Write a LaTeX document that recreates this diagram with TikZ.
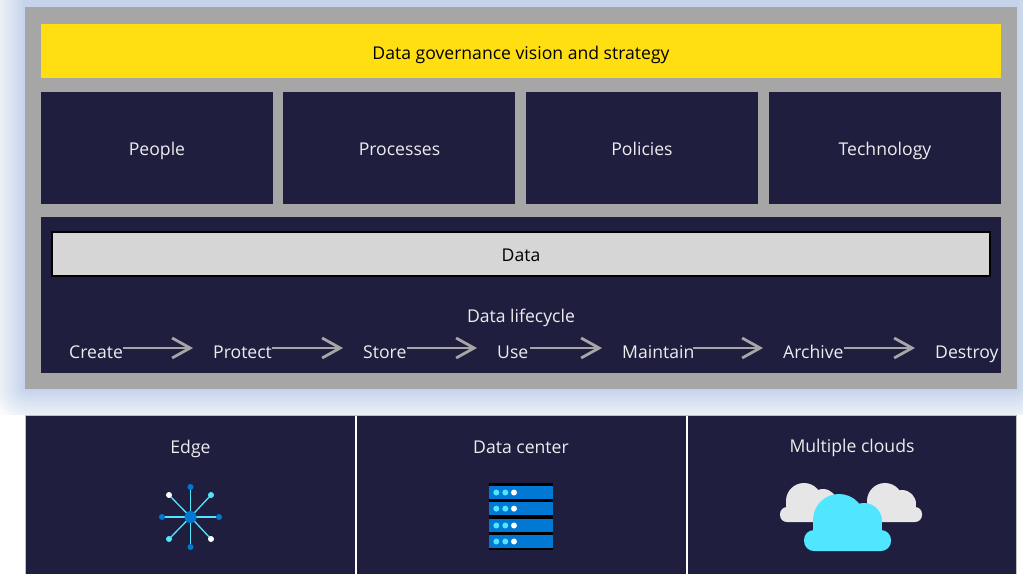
\documentclass[tikz,border=0pt]{standalone}
\usepackage{fontspec}
\setmainfont{Open Sans}
\usetikzlibrary{arrows.meta}
\definecolor{navy}{HTML}{1F1E3E}
\definecolor{panelgray}{HTML}{A6A6A6}
\definecolor{gold}{HTML}{FFDF11}
\definecolor{lightbar}{HTML}{D6D6D6}
\definecolor{msblue}{HTML}{0078D4}
\definecolor{mscyan}{HTML}{50E6FF}
\definecolor{cloudgray}{HTML}{E6E6E6}
\definecolor{glowblue}{HTML}{C3D2EA}
\tikzset{
  x=1pt,y=-1pt,
  lbl/.style={font=\fontsize{17.6}{20}\selectfont,inner sep=0pt,anchor=base},
  wlbl/.style={lbl,text=white!92!navy},
  klbl/.style={lbl,text=black},
  stage/.style={wlbl,text height=22pt,text depth=2pt,anchor=west},
  flow/.style={draw=panelgray,line width=2.8pt,-{Straight Barb[length=18pt,width=20pt,line width=2.8pt]},shorten >=20pt},
  spoke/.style={draw=mscyan,line width=1.3pt},
}
\newcommand{\blk}[5]{\fill[#1] (#2,#3) rectangle (#4,#5);}
\begin{document}
\begin{tikzpicture}
\useasboundingbox (0,0) rectangle (1023,574);
\clip (0,0) rectangle (1023,574);
\fill[white] (0,0) rectangle (1023,574);
% glow
\foreach \d in {38,36,...,2}{
  \pgfmathsetmacro{\p}{\d/38*100}
  \pgfmathsetmacro{\r}{\d+3}
  \fill[white!\p!glowblue,rounded corners=\r pt] ({25-\d},{-60}) rectangle ({1017+\d},{389+\d});
}
% main panel
\blk{panelgray}{25}{7}{1017}{389}
\blk{gold}{41}{24}{1001}{78}
\node[klbl] (title) at (521,59) {Data governance vision and strategy};
\blk{navy}{41}{92}{273}{204}
\blk{navy}{283}{92}{515}{204}
\blk{navy}{526}{92}{758}{204}
\blk{navy}{769}{92}{1001}{204}
\node[wlbl] (people) at (157,155) {People};
\node[wlbl] (processes) at (399.5,155) {Processes};
\node[wlbl] (policies) at (642,155) {Policies};
\node[wlbl] (technology) at (885,155) {Technology};
\blk{navy}{41}{217}{1001}{373}
\draw[fill=lightbar,draw=black,line width=1.6pt] (52,232) rectangle (990,276);
\node[klbl] (data) at (521,261) {Data};
\node[wlbl] (lifecycle) at (521,322) {Data lifecycle};
% stages
\node[stage] (create) at (69,348) {Create};
\node[stage] (protect) at (213,348) {Protect};
\node[stage] (store) at (363,348) {Store};
\node[stage] (use) at (497,348) {Use};
\node[stage] (maintain) at (622,348) {Maintain};
\node[stage] (archive) at (783,348) {Archive};
\node[stage] (destroy) at (935,348) {Destroy};
\draw[flow] (create) -- (protect);
\draw[flow] (protect) -- (store);
\draw[flow] (store) -- (use);
\draw[flow] ([xshift=2pt]use.east) -- (maintain);
\draw[flow] ([xshift=-2pt]maintain.east) -- (archive);
\draw[flow] (archive) -- (destroy);
% lower row
\fill[white] (0,415) rectangle (1023,574);
\fill[black!25] (24.5,415) rectangle (1017,574);
\blk{navy}{26}{416}{355}{574}
\blk{white}{355}{416}{357}{574}
\blk{navy}{357}{416}{686}{574}
\blk{white}{686}{416}{688}{574}
\blk{navy}{688}{416}{1016}{574}
\node[wlbl] (edge) at (190.5,453) {Edge};
\node[wlbl] (center) at (521,453) {Data center};
\node[wlbl] (clouds) at (852,452) {Multiple clouds};
% edge icon
\coordinate (hub) at (190.5,517);
\foreach \px/\py/\c in {190.5/487/msblue,190.5/547/msblue,162/517/msblue,219/517/msblue,169/495/white,211/495/mscyan,169/539/mscyan,211/539/white}{
  \draw[spoke] (hub) -- (\px,\py);
  \fill[\c] (\px,\py) circle (3pt);
}
\fill[msblue] (hub) circle (6pt);
% server icon
\blk{black}{489}{483}{553}{550}
\foreach \ya/\yb in {486/499,502/515.3,519/532,535/548}{
  \fill[msblue] (489,\ya) rectangle (553,\yb);
  \fill[mscyan] (496.3,{(\ya+\yb)/2}) circle (3pt);
  \fill[mscyan] (505.3,{(\ya+\yb)/2}) circle (3pt);
  \fill[white] (514,{(\ya+\yb)/2}) circle (3pt);
}
% clouds
\begin{scope}[cloudgray]
  \fill[rounded corners=7pt] (780,507) rectangle (835,522);
  \fill (786,501) rectangle (825,515);
  \fill (804,501) circle (18pt);
  \fill (823,503) circle (14pt);
  \fill[rounded corners=7pt] (860,507) rectangle (922,522);
  \fill (867,501) rectangle (916,515);
  \fill (885,501) circle (18pt);
  \fill (902,504) circle (14pt);
\end{scope}
\begin{scope}[mscyan]
  \fill[rounded corners=10pt] (804,530) rectangle (891,551);
  \fill (813,520) rectangle (882,540);
  \fill (839,520) circle (26pt);
  \fill (864,521) circle (18pt);
\end{scope}
\end{tikzpicture}
\end{document}
